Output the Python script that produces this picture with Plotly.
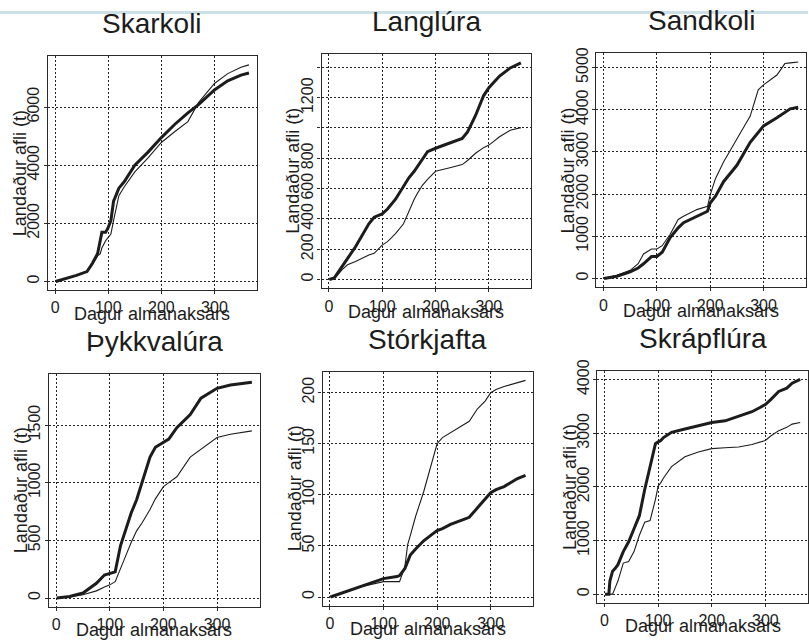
import plotly.graph_objects as go

W, H = 809, 644

# ---- data -------------------------------------------------------------
titles = ["Skarkoli", "Langlúra", "Sandkoli", "Þykkvalúra", "Stórkjafta", "Skrápflúra"]
x_label = "Dagur almanaksárs"
y_label = "Landaður afli (t)"
x_ticks = [0, 100, 200, 300]

skarkoli_dagar = [1, 20, 40, 60, 70, 80, 85, 88, 95, 100, 105, 110, 115, 120, 130, 150,
                  175, 200, 225, 250, 270, 300, 325, 350, 365]
skarkoli_a = [0, 100, 210, 340, 620, 960, 1400, 1690, 1690, 1860, 2090, 2760, 2980, 3210,
              3430, 4000, 4450, 4950, 5400, 5800, 6080, 6590, 6900, 7100, 7170]
skarkoli_b = [0, 95, 200, 330, 580, 880, 960, 1150, 1400, 1520, 1630, 2090, 2530, 2950,
              3250, 3770, 4250, 4780, 5150, 5500, 6150, 6810, 7150, 7370, 7450]

langlura_dagar = [1, 10, 25, 35, 50, 75, 85, 100, 110, 125, 140, 150, 160, 165, 175, 185,
                  200, 225, 250, 260, 275, 290, 300, 320, 340, 360]
langlura_a = [0, 10, 87, 140, 216, 368, 411, 433, 465, 530, 610, 671, 714, 740, 800, 844,
              866, 898, 931, 974, 1082, 1212, 1266, 1342, 1396, 1429]
langlura_b = [0, 4, 65, 97, 119, 162, 173, 227, 250, 303, 368, 455, 530, 563, 620, 660,
              714, 736, 758, 785, 833, 870, 887, 942, 985, 1002]

sandkoli_dagar = [1, 25, 50, 65, 75, 90, 100, 110, 125, 140, 150, 175, 195, 200, 210, 225,
                  250, 275, 290, 300, 325, 340, 350, 365]
sandkoli_a = [0, 54, 156, 250, 350, 521, 521, 622, 972, 1200, 1322, 1477, 1594, 1788, 1950,
              2294, 2683, 3227, 3450, 3616, 3810, 3930, 4020, 4060]
sandkoli_b = [0, 78, 194, 350, 583, 700, 700, 778, 1050, 1400, 1477, 1633, 1711, 1983, 2372,
              2760, 3305, 3850, 4472, 4588, 4821, 5093, 5110, 5132]

thykkvalura_dagar = [1, 25, 50, 75, 90, 100, 110, 120, 130, 140, 150, 160, 175, 185, 200,
                     210, 225, 250, 270, 300, 325, 350, 365]
thykkvalura_a = [0, 14, 43, 128, 199, 213, 227, 455, 597, 739, 852, 994, 1222, 1307, 1349,
                 1378, 1477, 1591, 1733, 1818, 1847, 1864, 1870]
thykkvalura_b = [0, 10, 28, 62, 95, 114, 142, 250, 370, 483, 582, 650, 767, 860, 966,
                 1000, 1051, 1222, 1290, 1392, 1420, 1440, 1449]

storkjafta_dagar = [1, 50, 100, 125, 130, 140, 145, 150, 160, 175, 190, 200, 210, 225, 250,
                    260, 275, 290, 300, 310, 325, 350, 365]
storkjafta_a = [0, 9, 18, 20, 21, 28, 35, 41, 47, 55, 61, 65, 67, 71, 76, 78, 87, 96, 102,
                105, 108, 116, 119]
storkjafta_b = [0, 9, 15, 15, 15, 30, 51, 60, 79, 103, 131, 150, 156, 161, 169, 172, 184,
                192, 200, 203, 206, 210, 212]

skrapflura_dagar = [1, 8, 10, 15, 20, 25, 35, 45, 55, 65, 75, 85, 95, 100, 105, 110, 125,
                    150, 175, 200, 225, 250, 275, 290, 300, 310, 325, 340, 350, 365]
skrapflura_a = [0, 0, 244, 427, 480, 549, 793, 976, 1220, 1463, 1951, 2378, 2805, 2840, 2866,
                2920, 3018, 3080, 3140, 3200, 3232, 3323, 3402, 3480, 3537, 3628, 3780, 3841,
                3933, 4006]
skrapflura_b = [0, 0, 0, 0, 122, 244, 579, 610, 793, 1098, 1341, 1372, 1768, 2012, 2080,
                2165, 2378, 2561, 2652, 2713, 2730, 2744, 2790, 2835, 2866, 2950, 3049, 3110,
                3171, 3201]

y_tickvals = [
    [0, 2000, 4000, 6000],
    [0, 200, 400, 600, 800, 1000, 1200, 1400],
    [0, 1000, 2000, 3000, 4000, 5000],
    [0, 500, 1000, 1500],
    [0, 50, 100, 150, 200],
    [0, 1000, 2000, 3000, 4000],
]
y_ticktext = [
    ["0", "2000", "4000", "6000"],
    ["0", "200", "400", "600", "800", "", "1200", ""],
    ["0", "1000", "2000", "3000", "4000", "5000"],
    ["0", "500", "1000", "1500"],
    ["0", "50", "100", "150", "200"],
    ["0", "1000", "2000", "3000", "4000"],
]

series = [
    (skarkoli_dagar, skarkoli_a, skarkoli_b),
    (langlura_dagar, langlura_a, langlura_b),
    (sandkoli_dagar, sandkoli_a, sandkoli_b),
    (thykkvalura_dagar, thykkvalura_a, thykkvalura_b),
    (storkjafta_dagar, storkjafta_a, storkjafta_b),
    (skrapflura_dagar, skrapflura_a, skrapflura_b),
]

# ---- layout geometry (pixels: left, top, right, bottom) ------------------
boxes = [
    (48, 46, 257, 284),
    (322, 44, 532, 282),
    (597, 43, 807, 281),
    (49, 369, 260, 606),
    (323, 367, 534, 605),
    (598, 366, 809, 602),
]

FONT = "Liberation Sans, Arial, Helvetica, sans-serif"
INK = "#1c1c1c"


def px_x(p):
    return p / W


def px_y(p):
    return 1 - p / H


def padded(lo, hi):
    span = hi - lo
    return [lo - 0.04 * span, hi + 0.04 * span]


fig = go.Figure()
layout = dict(
    width=W, height=H, autosize=False,
    margin=dict(l=0, r=0, t=0, b=0),
    paper_bgcolor="white", plot_bgcolor="white",
    showlegend=False,
    font=dict(family=FONT, color=INK, size=16),
)
annotations = []

for i, ((days, a, b), box) in enumerate(zip(series, boxes)):
    n = i + 1
    xa = "x" if n == 1 else f"x{n}"
    ya = "y" if n == 1 else f"y{n}"

    fig.add_trace(go.Scatter(x=days, y=b, mode="lines", xaxis=xa, yaxis=ya,
                             line=dict(color=INK, width=1.1), hoverinfo="skip"))
    fig.add_trace(go.Scatter(x=days, y=a, mode="lines", xaxis=xa, yaxis=ya,
                             line=dict(color=INK, width=3), hoverinfo="skip"))

    left, top, right, bottom = box
    ymin = min(min(a), min(b))
    ymax = max(max(a), max(b))
    xr = padded(min(days), 365)

    common = dict(
        showline=True, mirror=True, linecolor="#2a2a2a", linewidth=1.3,
        ticks="outside", ticklen=3, tickcolor="#2a2a2a", tickwidth=1,
        showgrid=True, gridcolor="#222", gridwidth=1, griddash="2px,2px",
        zeroline=False, tickfont=dict(size=16, family=FONT, color=INK),
        fixedrange=True,
    )
    layout["xaxis" if n == 1 else f"xaxis{n}"] = dict(
        common, domain=[px_x(left), px_x(right)], range=xr, anchor=ya,
        tickmode="array", tickvals=x_ticks, ticktext=[str(t) for t in x_ticks],
    )
    layout["yaxis" if n == 1 else f"yaxis{n}"] = dict(
        common, domain=[px_y(bottom), px_y(top)], range=padded(ymin, ymax), anchor=xa,
        tickmode="array", tickvals=y_tickvals[i], ticktext=y_ticktext[i], tickangle=-90,
        ticklabelstandoff=-2,
    )

    cx = (left + right) / 2
    cy = (top + bottom) / 2
    annotations.append(dict(text=titles[i], xref="paper", yref="paper",
                            x=px_x(cx), y=px_y(top - 33), xanchor="center", yanchor="middle",
                            showarrow=False, font=dict(size=28, family=FONT, color=INK)))
    annotations.append(dict(text=x_label, xref="paper", yref="paper",
                            x=px_x(cx), y=px_y(bottom + 24), xanchor="center", yanchor="middle",
                            showarrow=False, font=dict(size=18, family=FONT, color=INK)))
    annotations.append(dict(text=y_label, xref="paper", yref="paper",
                            x=px_x(left - 28), y=px_y(cy), xanchor="center", yanchor="middle",
                            textangle=-90, showarrow=False,
                            font=dict(size=18, family=FONT, color=INK)))

layout["annotations"] = annotations
layout["shapes"] = [dict(type="rect", xref="paper", yref="paper", x0=0, x1=1,
                         y0=px_y(3), y1=1, fillcolor="#cddfe7", line=dict(width=0),
                         layer="below")]
fig.update_layout(**layout)

fig.write_html("out.html")
